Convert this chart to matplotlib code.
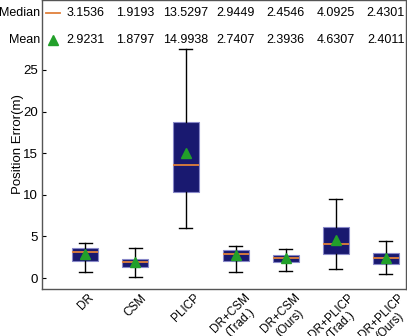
import matplotlib
matplotlib.use('Agg')
import matplotlib.pyplot as plt

plt.rcParams['font.family'] = ['Liberation Sans', 'DejaVu Sans']

labels = ['DR', 'CSM', 'PLICP', 'DR+CSM\n(Trad.)', 'DR+CSM\n(Ours)',
          'DR+PLICP\n(Trad.)', 'DR+PLICP\n(Ours)']
whislo = [0.68, 0.12, 6.0, 0.72, 0.84, 1.12, 0.52]
q1 = [2.1, 1.28, 10.3, 2.0, 1.88, 2.94, 1.72]
median = [3.1536, 1.9193, 13.5297, 2.9449, 2.4546, 4.0925, 2.4301]
q3 = [3.6, 2.3, 18.8, 3.4, 2.8, 6.2, 3.04]
whishi = [4.24, 3.56, 27.5, 3.88, 3.52, 9.5, 4.48]
mean = [2.9231, 1.8797, 14.9938, 2.7407, 2.3936, 4.6307, 2.4011]

stats = []
for i in range(len(labels)):
    stats.append(dict(whislo=whislo[i], q1=q1[i], med=median[i], q3=q3[i],
                      whishi=whishi[i], mean=mean[i], fliers=[]))

fig = plt.figure(figsize=(4.07, 3.36), dpi=100)
ax = fig.add_axes([0.103, 0.14, 0.895, 0.86])

pos = list(range(1, len(labels) + 1))
ax.bxp(stats, positions=pos, widths=0.52, patch_artist=True, showmeans=True,
       boxprops=dict(facecolor='#191970', edgecolor='#8888c8', linewidth=0.8),
       medianprops=dict(color='#e0803a', linewidth=1.3),
       whiskerprops=dict(color='black', linewidth=1),
       capprops=dict(color='black', linewidth=1),
       capwidths=0.26,
       meanprops=dict(marker='^', markerfacecolor='#22a02a', markeredgecolor='#22a02a',
                      markersize=7))

ax.set_xlim(0.13, 7.41)
ax.set_ylim(-1.3, 33.4)
ax.set_yticks([0, 5, 10, 15, 20, 25])
ax.set_xticks(pos)
ax.set_xticklabels(labels, rotation=45, ha='center', va='top',
                   multialignment='center', fontsize=8.5, linespacing=1.1)
ax.tick_params(axis='y', direction='in', length=3, labelsize=9.5, pad=3)
ax.tick_params(axis='x', length=0, pad=2)
ax.set_ylabel('Position Error(m)', fontsize=9.5, labelpad=-1)
for s in ax.spines.values():
    s.set_color('#555555')
    s.set_linewidth(1)

# median / mean rows at top
ax.text(-0.004, 0.954, 'Median', transform=ax.transAxes, ha='right', va='center', fontsize=9)
ax.text(-0.004, 0.862, 'Mean', transform=ax.transAxes, ha='right', va='center', fontsize=9)
ax.plot([0.011, 0.049], [0.954, 0.954], transform=ax.transAxes, color='#e0803a', lw=1.3,
        clip_on=False)
ax.plot([0.030], [0.862], transform=ax.transAxes, marker='^', color='#22a02a', ms=7,
        clip_on=False)
for p, m, mn in zip(pos, median, mean):
    ax.text(p, 0.954, '%.4f' % m, transform=ax.get_xaxis_transform(), ha='center',
            va='center', fontsize=9)
    ax.text(p, 0.862, '%.4f' % mn, transform=ax.get_xaxis_transform(), ha='center',
            va='center', fontsize=9)

fig.savefig('out.png', dpi=100)
